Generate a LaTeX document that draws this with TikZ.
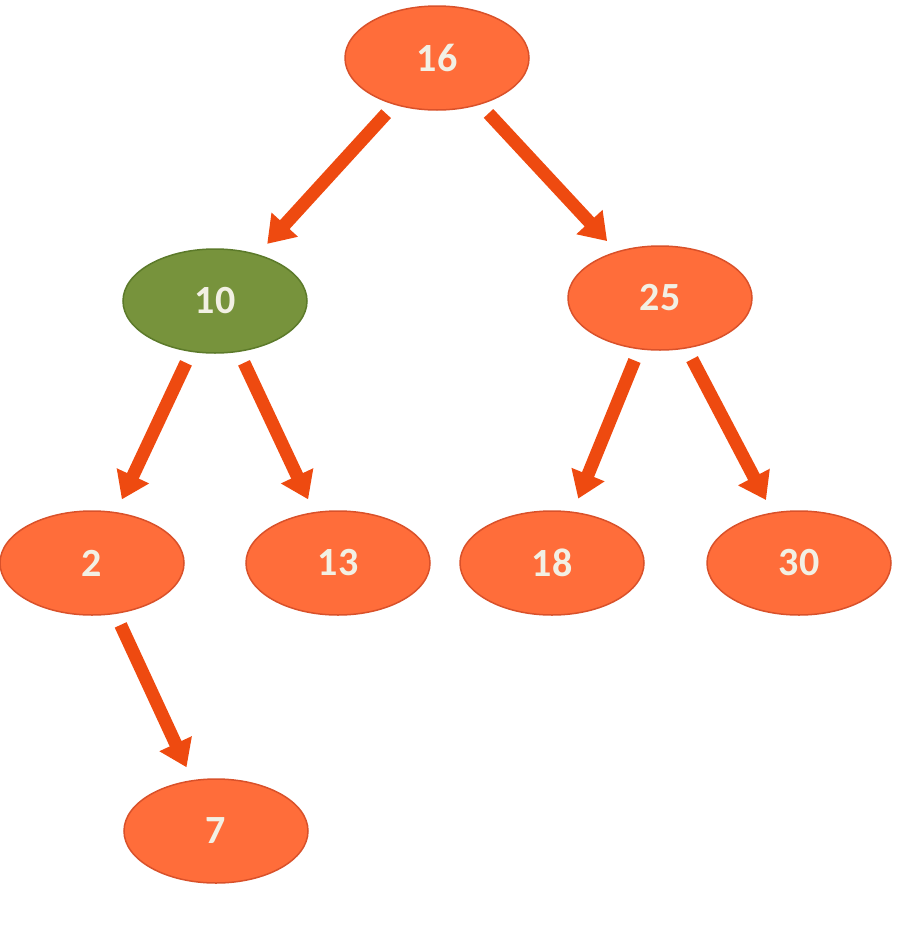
\documentclass[tikz,border=0pt]{standalone}
\usepackage{fontspec}
\setmainfont{Carlito}
\usetikzlibrary{shapes.geometric,arrows.meta}
\definecolor{org}{HTML}{FF6D3A}
\definecolor{orgd}{HTML}{D9512A}
\definecolor{grn}{HTML}{77933C}
\definecolor{grnd}{HTML}{5C7A2A}
\definecolor{arr}{HTML}{EE4A10}
\definecolor{txt}{HTML}{F2F0E4}
\tikzset{
 nd/.style={ellipse,minimum width=184pt,minimum height=104pt,inner sep=0pt,fill=org,draw=orgd,line width=1.5pt,text=txt,font=\fontsize{40}{40}\selectfont\bfseries},
 gn/.style={nd,fill=grn,draw=grnd},
 ar/.style={draw=arr,line width=13pt,-{Triangle[width=34pt,length=26pt]},shorten <=12pt,shorten >=14pt}
}
\begin{document}
\begin{tikzpicture}[x=1pt,y=-1pt]
\useasboundingbox (0,0) rectangle (909,929);
\node[nd] (n16) at (437,58) {16};
\node[gn] (n10) at (215,301) {10};
\node[nd] (n25) at (660,298) {25};
\node[nd] (n2) at (92,563) {2};
\node[nd] (n13) at (338,563) {13};
\node[nd] (n18) at (552,563) {18};
\node[nd] (n30) at (799,563) {30};
\node[nd] (n7) at (216,831) {7};
\draw[ar] (n16) -- (n10);
\draw[ar] (n16) -- (n25);
\draw[ar] (n10) -- (n2);
\draw[ar] (n10) -- (n13);
\draw[ar] (n25) -- (n18);
\draw[ar] (n25) -- (n30);
\draw[ar] (n2) -- (n7);
\end{tikzpicture}
\end{document}
